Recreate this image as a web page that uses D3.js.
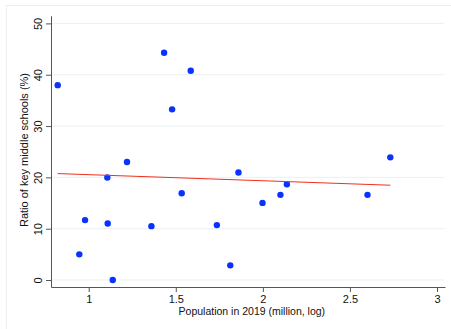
<!DOCTYPE html>
<html>
<head>
<meta charset="utf-8">
<script src="https://cdn.jsdelivr.net/npm/d3@7"></script>
<style>
  body { margin: 0; background: #fff; }
  text { font-family: "Liberation Sans", Arial, sans-serif; fill: #111; }
</style>
</head>
<body>
<div id="chart"></div>
<script>
// population in 2019 (million, log) and ratio of key middle schools (%)
const population = [0.822, 0.946, 0.979, 1.107, 1.109, 1.138, 1.220, 1.360, 1.433, 1.479,
                    1.534, 1.586, 1.736, 1.813, 1.860, 1.998, 2.101, 2.138, 2.601, 2.732];
const keyRatio   = [37.97, 5.0, 11.67, 19.97, 11.02, 0.0, 23.0, 10.5, 44.27, 33.25,
                    16.9, 40.77, 10.7, 2.86, 20.94, 15.03, 16.59, 18.67, 16.59, 23.9];

// fitted line end points
const fitX = [0.822, 2.732];
const fitY = [20.74, 18.47];

const xTicks = [1, 1.5, 2, 2.5, 3];
const yTicks = [0, 10, 20, 30, 40, 50];

const width = 451, height = 329;

const svg = d3.select("#chart")
  .append("svg")
  .attr("width", width)
  .attr("height", height);

// outer graph frame (only left/top edges are visible)
svg.append("rect")
  .attr("x", 6.5).attr("y", 5.5)
  .attr("width", 460).attr("height", 340)
  .attr("fill", "none")
  .attr("stroke", "#e9eff2");

const x = d3.scaleLinear().domain([0.7835, 3.046]).range([51, 445]);
const y = d3.scaleLinear().domain([-1.36, 51.5]).range([287, 15.7]);

// horizontal grid
svg.append("g")
  .selectAll("line")
  .data(yTicks)
  .enter().append("line")
  .attr("x1", 51).attr("x2", 444)
  .attr("y1", d => y(d)).attr("y2", d => y(d))
  .attr("stroke", "#eaf1f3")
  .attr("stroke-width", 1);

// y axis
const yAxis = svg.append("g")
  .attr("transform", "translate(51,0)")
  .call(d3.axisLeft(y).tickValues(yTicks).tickSize(5).tickSizeOuter(0).tickFormat(d3.format("d")));
yAxis.select(".domain").attr("stroke", "#555");
yAxis.selectAll(".tick line").attr("stroke", "#555");
yAxis.selectAll(".tick text")
  .attr("font-size", 11)
  .attr("x", 0).attr("dy", 0)
  .attr("text-anchor", "middle")
  .attr("transform", "translate(-9,0) rotate(-90)");

// x axis
const xAxis = svg.append("g")
  .attr("transform", "translate(0,287)")
  .call(d3.axisBottom(x).tickValues(xTicks).tickSize(5).tickSizeOuter(0).tickFormat(d => d));
xAxis.select(".domain").attr("stroke", "#555");
xAxis.selectAll(".tick line").attr("stroke", "#555");
xAxis.selectAll(".tick text")
  .attr("font-size", 11)
  .attr("y", 8);

// axis titles
svg.append("text")
  .attr("x", (x(1) + x(3)) / 2 - 11)
  .attr("y", 315)
  .attr("text-anchor", "middle")
  .attr("font-size", 10.5)
  .text("Population in 2019 (million, log)");

svg.append("text")
  .attr("transform", "translate(28," + 150 + ") rotate(-90)")
  .attr("text-anchor", "middle")
  .attr("font-size", 11)
  .text("Ratio of key middle schools (%)");

// points
svg.append("g")
  .selectAll("circle")
  .data(population.map((p, i) => [p, keyRatio[i]]))
  .enter().append("circle")
  .attr("cx", d => x(d[0]))
  .attr("cy", d => y(d[1]))
  .attr("r", 3.2)
  .attr("fill", "#0a32ff");

// fitted line
const line = d3.line().x(d => x(d[0])).y(d => y(d[1]));
svg.append("path")
  .datum(fitX.map((v, i) => [v, fitY[i]]))
  .attr("d", line)
  .attr("fill", "none")
  .attr("stroke", "#f0301e")
  .attr("stroke-width", 1);
</script>
</body>
</html>
